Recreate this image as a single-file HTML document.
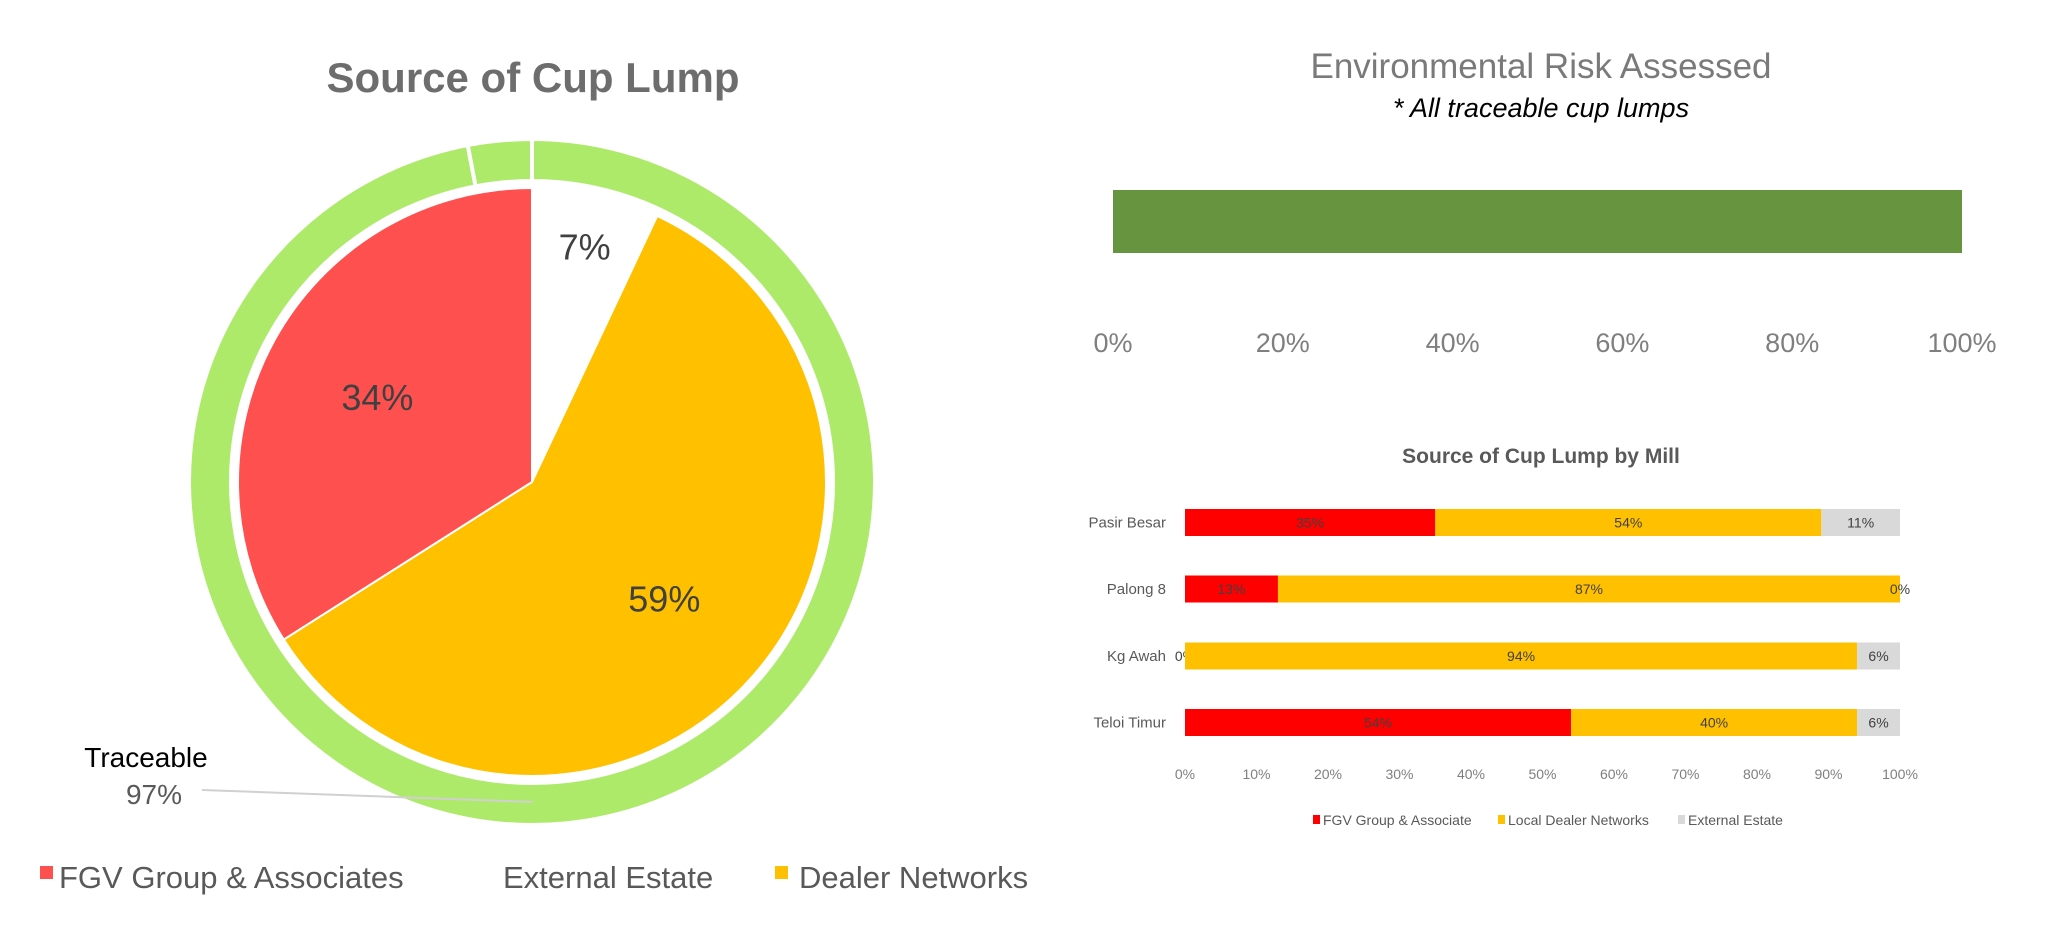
<!DOCTYPE html>
<html><head><meta charset="utf-8"><style>
html,body{margin:0;padding:0;background:#fff;}
svg{display:block;font-family:"Liberation Sans",Arial,sans-serif;}
</style></head><body>
<svg id="chart" width="2048" height="948" viewBox="0 0 2048 948">
<text x="533" y="92" text-anchor="middle" font-size="42" font-weight="bold" fill="#6d6d6d">Source of Cup Lump</text>
<g id="pie"></g>
<text x="1541" y="78" text-anchor="middle" font-size="35" fill="#7a7a7a">Environmental Risk Assessed</text>
<text x="1541" y="117" text-anchor="middle" font-size="27" font-style="italic" fill="#000">* All traceable cup lumps</text>
<g id="risk"></g>
<text x="1541" y="463" text-anchor="middle" font-size="21" font-weight="bold" fill="#595959">Source of Cup Lump by Mill</text>
<g id="mill"></g>
</svg>
<script>
const pieCategories = ["External Estate", "Dealer Networks", "FGV Group & Associates"];
const pieValues = [7, 59, 34];
const pieLabels = ["7%", "59%", "34%"];
const ringValues = [97, 3];
const ringLabels = ["Traceable", "97%"];
const riskValues = [100];
const riskTicks = [0, 20, 40, 60, 80, 100];
const millCategories = ["Pasir Besar", "Palong 8", "Kg Awah", "Teloi Timur"];
const millFGV = [35, 13, 0, 54];
const millDealer = [54, 87, 94, 40];
const millExternal = [11, 0, 6, 6];
const millSeries = ["FGV Group & Associate", "Local Dealer Networks", "External Estate"];
const millTicks = [0,10,20,30,40,50,60,70,80,90,100];

const NS = "http://www.w3.org/2000/svg";
function mk(tag, attrs, parent){const e=document.createElementNS(NS,tag);for(const k in attrs)e.setAttribute(k,attrs[k]);parent.appendChild(e);return e;}

// Pie
const pie = document.getElementById('pie');
const cx=532, cy=482, R=294, rO=343, rI=301;
function pt(r,frac){const a=frac*2*Math.PI;return [cx+r*Math.sin(a), cy-r*Math.cos(a)];}
function arcPath(r0,r1,f0,f1){
  const large=(f1-f0)>0.5?1:0;
  const a=pt(r1,f0),b=pt(r1,f1);
  if(r0===0) return `M${cx},${cy}L${a[0]},${a[1]}A${r1},${r1} 0 ${large} 1 ${b[0]},${b[1]}Z`;
  const c=pt(r0,f1),d=pt(r0,f0);
  return `M${a[0]},${a[1]}A${r1},${r1} 0 ${large} 1 ${b[0]},${b[1]}L${c[0]},${c[1]}A${r0},${r0} 0 ${large} 0 ${d[0]},${d[1]}Z`;
}
// ring
const ringTotal = ringValues.reduce((a,b)=>a+b,0);
const ringColors=["#ADEA6A","#ADEA6A"];
let acc=0;
ringValues.forEach((v,i)=>{
  const f0=acc/ringTotal, f1=(acc+v)/ringTotal; acc+=v;
  const p=mk('path',{d:arcPath(rI,rO,f0,f1),fill:ringColors[i],stroke:"#fff","stroke-width":4},pie);
  
  
});
const pieColors=["#FFFFFF","#FFC000","#FF5050"];
const pieTotal = pieValues.reduce((a,b)=>a+b,0);
acc=0;
const labelPos=[0.62,0.62,0.62];
pieValues.forEach((v,i)=>{
  const f0=acc/pieTotal,f1=(acc+v)/pieTotal; acc+=v;
  const p=mk('path',{d:arcPath(0,R,f0,f1),fill:pieColors[i],stroke:"#fff","stroke-width":2},pie);
  
  
  const m=(f0+f1)/2; const lp=pt(R*(v<10?0.82:0.6),m);
  const t=mk('text',{x:lp[0],y:lp[1]+13,"text-anchor":"middle","font-size":36,fill:"#404040"},pie);
  t.textContent=pieLabels[i];
  
  
});
mk('circle',{cx:cx,cy:cy,r:R+1,fill:"none",stroke:"#fff","stroke-width":3},pie);
const ll=mk('line',{x1:202,y1:790,x2:533,y2:802,stroke:"#d0d0d0","stroke-width":2},pie);


let t1=mk('text',{x:146,y:767,"text-anchor":"middle","font-size":28,fill:"#000"},pie);t1.textContent=ringLabels[0];


let t2=mk('text',{x:154,y:804,"text-anchor":"middle","font-size":28,fill:"#595959"},pie);t2.textContent=ringLabels[1];


// pie legend
const legItems=[["FGV Group & Associates","#FF5050",40,59],["External Estate","#FFFFFF",478,503],["Dealer Networks","#FFC000",775,799]];
legItems.forEach(it=>{
  const g=mk('g',{},pie);
  
  
  mk('rect',{x:it[2],y:866,width:13,height:13,fill:it[1]},g);
  const t=mk('text',{x:it[3],y:888,"font-size":31,fill:"#595959"},g);t.textContent=it[0];
});

// Risk bar
const risk=document.getElementById('risk');
const rx0=1113, rx1=1962;
function rX(v){return rx0+(rx1-rx0)*v/100;}
riskValues.forEach(v=>{
  const b=mk('rect',{x:rX(0),y:190,width:rX(v)-rX(0),height:63,fill:"#66943F"},risk);
  
  
});
riskTicks.forEach(v=>{
  const t=mk('text',{x:rX(v),y:352,"text-anchor":"middle","font-size":27,fill:"#7f7f7f"},risk);
  t.textContent=v+"%";
  
  
});

// Mill chart
const mill=document.getElementById('mill');
const mx0=1185, mx1=1900;
function mX(v){return mx0+(mx1-mx0)*v/100;}
const rowY=[522.5,589,656,722.5];
const barH=27;
const colors=["#FF0000","#FFC000","#D9D9D9"];
millCategories.forEach((c,i)=>{
  const cy2=rowY[i];
  const t=mk('text',{x:1166,y:cy2+5,"text-anchor":"end","font-size":15,fill:"#595959"},mill);
  t.textContent=c;
  
  
  const vals=[millFGV[i],millDealer[i],millExternal[i]];
  let a=0;
  vals.forEach((v,j)=>{
    const r=mk('rect',{x:mX(a),y:cy2-barH/2,width:mX(a+v)-mX(a),height:barH,fill:colors[j]},mill);
    
    
    const lt=mk('text',{x:mX(a+v/2),y:cy2+5,"text-anchor":"middle","font-size":14,fill:"#404040"},mill);
    lt.textContent=v+"%";
    
    
    a+=v;
  });
});
millTicks.forEach(v=>{
  const t=mk('text',{x:mX(v),y:779,"text-anchor":"middle","font-size":14,fill:"#7f7f7f"},mill);
  t.textContent=v+"%";
  
  
});
const mLeg=[[1313,1323],[1498,1508],[1678,1688]];
millSeries.forEach((s,j)=>{
  const g=mk('g',{},mill);
  
  
  mk('rect',{x:mLeg[j][0],y:815,width:7,height:9,fill:colors[j]},g);
  const t=mk('text',{x:mLeg[j][1],y:825,"font-size":14,fill:"#595959"},g);t.textContent=s;
});
</script>
</body></html>
